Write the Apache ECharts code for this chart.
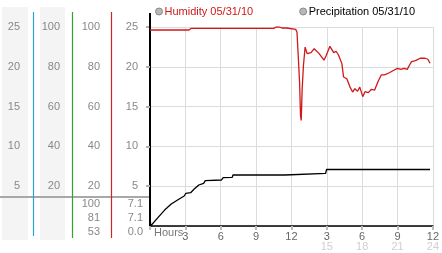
<!DOCTYPE html>
<html><head><meta charset="utf-8">
<script src="https://cdn.jsdelivr.net/npm/echarts@6/dist/echarts.min.js"></script>
<style>html,body{margin:0;padding:0;background:#fff}#c{width:442px;height:253px}</style>
</head><body><div id="c"></div>
<script>
// ---- data ----
const seriesNames = ['Humidity 05/31/10', 'Precipitation 05/31/10'];
// humidity [hour, %]
const humidity = [
 [0,98.5],[3.31,98.5],[3.48,99.3],[3.6,98.6],[3.73,99.3],[10.51,99.3],[10.68,100],[10.84,99.5],
 [11.0,100],[11.18,99.5],[11.34,100],[11.59,99.5],[12.36,98.8],[12.47,97.5],[12.69,72.4],
 [12.77,55.6],[12.83,53],[12.91,69],[13.02,80.8],[13.16,89.9],[13.33,86.6],[13.66,87.1],
 [13.93,89.1],[14.35,86.6],[14.76,83.3],[14.96,85.8],[15.26,90.3],[15.59,87.1],[15.79,87.8],
 [16.0,85.8],[16.14,86.6],[16.28,81.6],[16.42,74.9],[16.7,74.0],[16.97,69.8],[17.19,67.3],
 [17.38,69.0],[17.61,67.7],[17.8,69.8],[18.05,65.0],[18.24,67.5],[18.52,67.0],[18.79,68.7],
 [19.06,68.3],[19.34,72.5],[19.62,75.9],[19.89,75.9],[20.31,77.0],[20.72,78.4],[21.0,79.2],
 [21.27,78.7],[21.55,79.2],[21.83,78.7],[22.02,80.9],[22.19,82.6],[22.52,83.1],[22.93,84.3],
 [23.34,84.3],[23.57,83.8],[23.76,81.8]
];
// precipitation [hour, value]
const precipitation = [
 [0,1.8],[0.05,0],[0.69,1.09],[1.24,2.0],[1.8,2.76],[2.34,3.27],[2.9,3.77],[3.04,4.11],
 [3.45,4.18],[3.73,4.61],[4.14,5.15],[4.55,5.36],[4.69,5.69],[6.07,5.78],[6.21,6.07],
 [6.98,6.12],[7.04,6.41],[11.45,6.41],[11.51,6.62],[14.9,6.62],[14.98,7.1],[23.76,7.1]
];
// stats shown under the scales: max, current, min
const humidityStats = ['100', '81', '53'];
const precipStats = ['7.1', '7.1', '0.0'];

// ---- chart ----
const chart = echarts.init(document.getElementById('c'), null, {renderer:'canvas'});
const FONT = 'Liberation Sans, Arial, sans-serif';
const gray = '#888';
const statFont = '11px ' + FONT;
const graphics = [
  {type:'rect', shape:{x:2,y:7,width:26,height:233}, style:{fill:'#f4f4f4'}, z:-1},
  {type:'rect', shape:{x:40,y:7,width:25,height:233}, style:{fill:'#f4f4f4'}, z:-1},
  {type:'line', shape:{x1:0,y1:197,x2:149,y2:197}, style:{stroke:'#a8a8a8',lineWidth:2}, z:2},
  {type:'line', shape:{x1:33.5,y1:12,x2:33.5,y2:236}, style:{stroke:'#2aa3cf',lineWidth:1.2}, z:3},
  {type:'line', shape:{x1:72.5,y1:12,x2:72.5,y2:238}, style:{stroke:'#2fa52f',lineWidth:1.2}, z:3},
  {type:'line', shape:{x1:111.5,y1:12,x2:111.5,y2:238}, style:{stroke:'#c82828',lineWidth:1.2}, z:3},
  {type:'line', shape:{x1:150,y1:13,x2:150,y2:28}, style:{stroke:'#000',lineWidth:2}, z:3},
  {type:'text', style:{text:'Hours', x:154, y:233, font:'11px '+FONT, fill:'#777', verticalAlign:'middle', align:'left'}}
];
humidityStats.forEach((s,i)=>graphics.push({type:'text', style:{text:s, x:100, y:204+i*14, align:'right', verticalAlign:'middle', font:statFont, fill:gray}}));
precipStats.forEach((s,i)=>graphics.push({type:'text', style:{text:s, x:143, y:204+i*14, align:'right', verticalAlign:'middle', font:statFont, fill:gray}}));

function sideAxis(max, interval, offset, margin){
  return {
    type:'value', min:0, max:max, interval:interval, position:'left', offset:offset,
    axisLine:{show:false}, axisTick:{show:false}, splitLine:{show:false},
    axisLabel:{showMinLabel:false, margin:margin, color:gray, fontSize:11, fontFamily:FONT}
  };
}

chart.setOption({
  animation:false,
  textStyle:{fontFamily:FONT},
  legend:{
    left:150, top:1, itemWidth:7, itemHeight:7, itemGap:46, icon:'circle',
    textStyle:{fontSize:11, fontFamily:FONT, padding:[0,0,0,-3]},
    data:[
      {name:seriesNames[0], itemStyle:{color:'#b8b8b8', borderColor:'#888', borderWidth:1}, textStyle:{color:'#cc1a1a'}},
      {name:seriesNames[1], itemStyle:{color:'#b8b8b8', borderColor:'#888', borderWidth:1}, textStyle:{color:'#000'}}
    ]
  },
  grid:{left:150, right:2, top:27, bottom:27, containLabel:false},
  graphic:graphics,
  xAxis:{
    type:'value', min:0, max:24, interval:3,
    axisLine:{show:true, onZero:false, lineStyle:{color:'#000', width:1.5}},
    axisTick:{show:true, length:4, lineStyle:{color:'#bbb', width:2}},
    splitLine:{show:true, lineStyle:{color:'#dcdcdc', width:1}},
    axisLabel:{
      margin:5, color:'#666', fontSize:11, fontFamily:FONT, lineHeight:11,
      formatter:function(v){
        if(v===0) return '';
        if(v<=12) return '{a|'+v+'}';
        return '{a|'+(v-12)+'}\n{b|'+v+'}';
      },
      rich:{a:{color:'#666', fontSize:11, lineHeight:11, fontFamily:FONT}, b:{color:'#cfcfcf', fontSize:11, lineHeight:10, fontFamily:FONT}}
    }
  },
  yAxis:[
    {type:'value', min:0, max:25, interval:5, position:'left', offset:0,
     axisLine:{show:true, lineStyle:{color:'#000', width:2}},
     axisTick:{show:true, length:4, lineStyle:{color:'#b0b0b0', width:2}},
     splitLine:{show:true, lineStyle:{color:'#dcdcdc', width:1}},
     axisLabel:{showMinLabel:false, margin:12, color:gray, fontSize:11, fontFamily:FONT}},
    sideAxis(100, 20, 50, 0),
    sideAxis(100, 20, 90, 0),
    sideAxis(25, 5, 130, 0)
  ],
  series:[
    {name:seriesNames[0], type:'line', yAxisIndex:1, data:humidity, showSymbol:false, symbol:'none',
     lineStyle:{color:'#d01818', width:1.3}, itemStyle:{color:'#d01818'}, z:4},
    {name:seriesNames[1], type:'line', yAxisIndex:0, data:precipitation, showSymbol:false, symbol:'none',
     lineStyle:{color:'#000', width:1.3}, itemStyle:{color:'#000'}, z:3}
  ]
});
</script></body></html>
